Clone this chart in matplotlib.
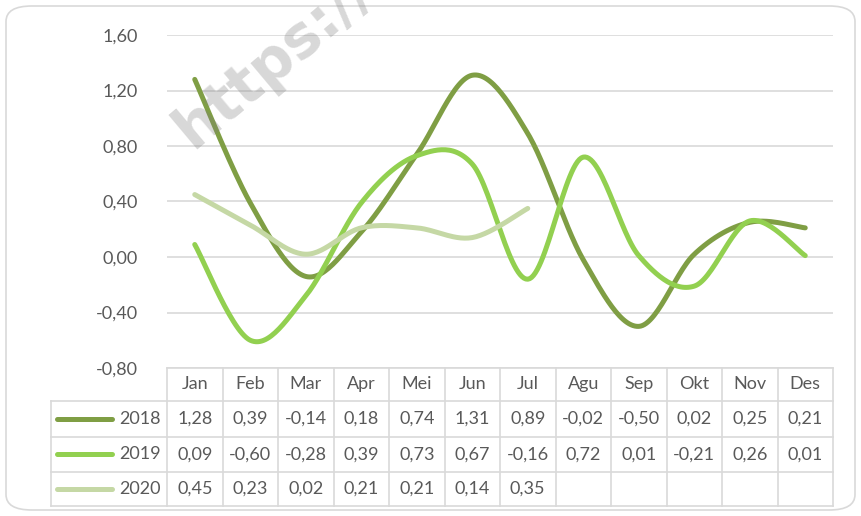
import numpy as np
import matplotlib
matplotlib.use("Agg")
import matplotlib.pyplot as plt
from matplotlib.patches import FancyBboxPatch
from matplotlib.ticker import FuncFormatter

# monthly values per year
months = ['Jan', 'Feb', 'Mar', 'Apr', 'Mei', 'Jun', 'Jul', 'Agu', 'Sep', 'Okt', 'Nov', 'Des']
v2018 = [1.28, 0.39, -0.14, 0.18, 0.74, 1.31, 0.89, -0.02, -0.50, 0.02, 0.25, 0.21]
v2019 = [0.09, -0.60, -0.28, 0.39, 0.73, 0.67, -0.16, 0.72, 0.01, -0.21, 0.26, 0.01]
v2020 = [0.45, 0.23, 0.02, 0.21, 0.21, 0.14, 0.35]
years = ['2018', '2019', '2020']
series = [v2018, v2019, v2020]
colors = ['#7f9e44', '#92d050', '#c5d8a5']

txt = '#595959'
grid = '#d9d9d9'
plt.rcParams['font.family'] = ['Lato', 'DejaVu Sans']
plt.rcParams['font.size'] = 13


def smooth(y, n=30):
    # excel-like smoothed line (catmull-rom as bezier)
    x = np.arange(len(y), dtype=float)
    y = np.asarray(y, dtype=float)
    P = np.column_stack([x, y])
    out = []
    for i in range(len(P) - 1):
        p0 = P[i - 1] if i > 0 else P[i]
        p1 = P[i]
        p2 = P[i + 1]
        p3 = P[i + 2] if i + 2 < len(P) else P[i + 1]
        b1 = p1 + (p2 - p0) / 6
        b2 = p2 - (p3 - p1) / 6
        t = np.linspace(0, 1, n)[:, None]
        seg = (1 - t) ** 3 * p1 + 3 * (1 - t) ** 2 * t * b1 + 3 * (1 - t) * t ** 2 * b2 + t ** 3 * p2
        out.append(seg if i == 0 else seg[1:])
    s = np.vstack(out)
    return s[:, 0], s[:, 1]


fig = plt.figure(figsize=(8.61, 5.16), dpi=100)
W, H = 861, 516
frame = FancyBboxPatch((6 / W, 6 / H), 849 / W, 504 / H, boxstyle='round,pad=0,rounding_size=0.03',
                       transform=fig.transFigure, facecolor='white', edgecolor=grid, lw=1.2, zorder=-5)
fig.patches.append(frame)

ax = fig.add_axes([167 / W, 1 - 368 / H, 666 / W, 333 / H])
ax.set_facecolor('none')
ax.set_xlim(-0.5, 11.5)
ax.set_ylim(-0.8, 1.6)
ax.set_yticks(np.arange(-0.8, 1.61, 0.4))
ax.yaxis.set_major_formatter(FuncFormatter(lambda v, p: f'{v:.2f}'.replace('.', ',').replace('-0,00', '0,00')))
ax.tick_params(axis='y', length=0, pad=21, labelcolor=txt, labelsize=13)
ax.set_xticks([])
for sp in ax.spines.values():
    sp.set_visible(False)
ax.grid(axis='y', color=grid, lw=1.2)
ax.set_axisbelow(True)

for vals, c in zip(series, colors):
    sx, sy = smooth(vals)
    ax.plot(sx, sy, color=c, lw=3.6, solid_capstyle='round', zorder=3)

# data table below the plot
tr = ax.get_xaxis_transform()
rows_y = [0, -0.099, -0.207, -0.312, -0.414]
xl = -0.5 - (167 - 51) / 55.5
tkw = dict(transform=tr, clip_on=False, color=grid, lw=1.2)
ax.plot([-0.5, 11.5], [rows_y[0]] * 2, **tkw)
for yy in rows_y[1:]:
    ax.plot([xl, 11.5], [yy, yy], **tkw)
for k in range(13):
    ax.plot([k - 0.5, k - 0.5], [rows_y[0], rows_y[-1]], **tkw)
ax.plot([xl, xl], [rows_y[1], rows_y[-1]], **tkw)

for i, m in enumerate(months):
    ax.text(i, (rows_y[0] + rows_y[1]) / 2, m, transform=tr, ha='center', va='center', color=txt)

for r, (yr, vals, c) in enumerate(zip(years, series, colors)):
    yc = (rows_y[r + 1] + rows_y[r + 2]) / 2
    ax.plot([-0.5 - 110 / 55.5, -0.5 - 55 / 55.5], [yc, yc], transform=tr, clip_on=False,
            color=c, lw=3.6, solid_capstyle='round')
    ax.text(-0.5 - 6 / 55.5, yc, yr, transform=tr, ha='right', va='center', color=txt)
    for i, v in enumerate(vals):
        ax.text(i, yc, f'{v:.2f}'.replace('.', ','), transform=tr, ha='center', va='center', color=txt)

# faint watermark
fig.text(192 / W, 1 - 150 / H, 'https://', rotation=40, rotation_mode='anchor', ha='left', va='baseline',
         fontsize=42, fontweight='bold', color='#7f7f7f', alpha=0.3, family='DejaVu Sans', zorder=10)

fig.savefig('out.png', dpi=100)
